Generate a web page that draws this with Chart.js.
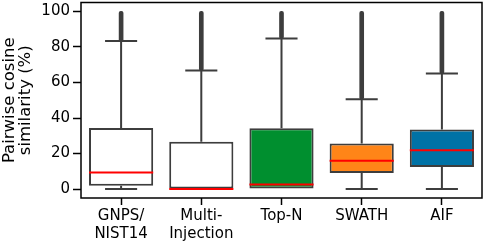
<!DOCTYPE html>
<html>
<head>
<meta charset="utf-8">
<script src="https://cdn.jsdelivr.net/npm/chart.js@4/dist/chart.umd.min.js"></script>
<style>
  html, body { margin: 0; padding: 0; background: #fff; }
  #wrap { width: 484px; height: 243px; }
</style>
</head>
<body>
<div id="wrap"><canvas id="c"></canvas></div>
<script>
// box plot values (%)
const methods = [['GNPS/', 'NIST14'], ['Multi-', 'Injection'], 'Top-N', 'SWATH', 'AIF'];
const q1 = [1.9, 0, 0, 9.0, 12.4];
const median = [9.4, 0, 2.6, 16.0, 21.8];
const q3 = [34.4, 26.7, 34.2, 25.6, 33.6];
const whiskerLo = [0, 0, 0, 0, 0];
const whiskerHi = [83.3, 66.7, 84.7, 50.6, 65.0];
const flierMax = [100, 100, 100, 100, 100];
const boxColors = ['#ffffff', '#ffffff', '#008f2f', '#ff8518', '#0072a6'];
const yTicks = [0, 20, 40, 60, 80, 100];

const EDGE = '#3d3d3d';

// whiskers, caps, medians and the plot frame
const boxParts = {
    id: 'boxParts',
    afterDatasetsDraw(chart) {
        const ctx = chart.ctx;
        const x = chart.scales.x, y = chart.scales.y;
        const meta = chart.getDatasetMeta(0);
        ctx.save();
        ctx.lineWidth = 2;
        ctx.lineCap = 'butt';
        methods.forEach((m, i) => {
            const bar = meta.data[i];
            const cx = x.getPixelForValue(i);
            const half = bar.width / 2;
            const capHalf = half / 2;
            ctx.strokeStyle = EDGE;
            ctx.beginPath();
            // upper whisker + cap
            ctx.moveTo(cx, y.getPixelForValue(q3[i]));
            ctx.lineTo(cx, y.getPixelForValue(whiskerHi[i]));
            ctx.moveTo(cx - capHalf, y.getPixelForValue(whiskerHi[i]));
            ctx.lineTo(cx + capHalf, y.getPixelForValue(whiskerHi[i]));
            // lower whisker + cap
            ctx.moveTo(cx, y.getPixelForValue(q1[i]));
            ctx.lineTo(cx, y.getPixelForValue(whiskerLo[i]));
            if (q1[i] > whiskerLo[i]) {
                ctx.moveTo(cx - capHalf, y.getPixelForValue(whiskerLo[i]));
                ctx.lineTo(cx + capHalf, y.getPixelForValue(whiskerLo[i]));
            }
            ctx.stroke();
            // median
            ctx.strokeStyle = '#ff0000';
            ctx.beginPath();
            ctx.moveTo(cx - half, y.getPixelForValue(median[i]));
            ctx.lineTo(cx + half, y.getPixelForValue(median[i]));
            ctx.stroke();
        });
        const a = chart.chartArea;
        ctx.strokeStyle = '#000';
        ctx.lineWidth = 1.5;
        ctx.strokeRect(a.left, a.top, a.right - a.left, a.bottom - a.top);
        ctx.restore();
    }
};

new Chart(document.getElementById('c'), {
    type: 'bar',
    data: {
        labels: methods,
        datasets: [
            {
                label: 'box',
                data: q1.map((v, i) => [v, q3[i]]),
                backgroundColor: boxColors,
                borderColor: EDGE,
                borderWidth: 2,
                borderSkipped: false,
                barPercentage: 0.8,
                categoryPercentage: 1,
                grouped: false
            },
            {
                label: 'fliers',
                data: whiskerHi.map((v, i) => [v, flierMax[i]]),
                backgroundColor: EDGE,
                borderWidth: 0,
                barThickness: 4,
                borderRadius: 2,
                borderSkipped: false,
                grouped: false
            }
        ]
    },
    options: {
        responsive: true,
        maintainAspectRatio: false,
        animation: false,
        events: [],
        layout: { padding: { top: 2.5, right: 2, left: 0, bottom: 0 } },
        plugins: { legend: { display: false }, tooltip: { enabled: false } },
        scales: {
            x: {
                offset: true,
                grid: { offset: false, drawOnChartArea: false, drawTicks: true, tickLength: 7, tickWidth: 1.5, tickColor: '#000' },
                border: { display: false },
                ticks: { color: '#000', padding: 2, maxRotation: 0, autoSkip: false,
                    font: { family: 'DejaVu Sans', size: 15, lineHeight: 1.22 } },
                afterFit(scale) { scale.height = 45; scale.paddingLeft = 0; scale.paddingRight = 0; }
            },
            y: {
                min: -5,
                max: 105,
                afterBuildTicks(scale) { scale.ticks = yTicks.map(v => ({ value: v })); },
                grid: { drawOnChartArea: false, drawTicks: true, tickLength: 8, tickWidth: 1.5, tickColor: '#000' },
                border: { display: false },
                ticks: { color: '#000', padding: 3, font: { family: 'DejaVu Sans', size: 15 } },
                title: {
                    display: true,
                    text: ['Pairwise cosine', 'similarity (%)'],
                    color: '#000',
                    padding: { top: 1, bottom: 0 },
                    font: { family: 'DejaVu Sans', size: 16.5, lineHeight: 1.0 }
                },
                afterFit(scale) { scale.width = 81; scale.paddingTop = 0; scale.paddingBottom = 0; }
            }
        }
    },
    plugins: [boxParts]
});
</script>
</body>
</html>
